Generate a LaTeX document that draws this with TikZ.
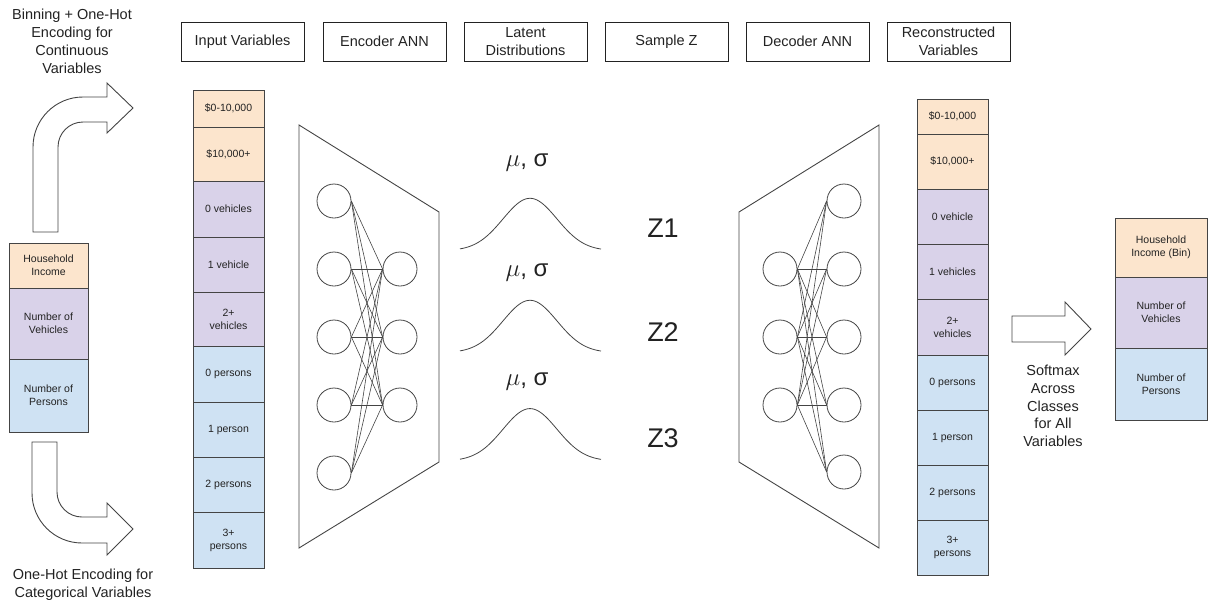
\documentclass[tikz,border=0pt]{standalone}
\usepackage{fontspec}
\setmainfont{Liberation Sans}
\definecolor{incomefill}{HTML}{FCE5CD}
\definecolor{vehfill}{HTML}{D9D2E9}
\definecolor{persfill}{HTML}{CFE2F3}
\definecolor{ink}{HTML}{222222}
\definecolor{edge}{HTML}{444444}

\begin{document}
\begin{tikzpicture}[x=1pt,y=-1pt,
  title/.style={draw=ink, line width=0.9pt, minimum width=123pt, minimum height=39pt,
    inner sep=0pt, outer sep=0pt, align=center, text=ink,
    font=\fontsize{14.5}{17.8}\selectfont},
  cell/.style={draw=edge, line width=0.9pt, inner sep=0pt, outer sep=0pt,
    anchor=north west, align=center, text=ink, font=\fontsize{10.5}{13}\selectfont},
  incell/.style={cell, minimum width=71pt},
  varcell/.style={cell, minimum width=79pt},
  outcell/.style={cell, minimum width=92pt},
  neuron/.style={circle, draw=edge, line width=0.8pt, minimum size=34pt, inner sep=0pt},
  link/.style={draw=edge, line width=0.6pt},
  caption/.style={align=center, text=ink, font=\fontsize{14.5}{17.8}\selectfont},
  blockarrow/.style={draw=edge, line width=0.9pt, fill=white},
  bell/.style={draw=edge, line width=0.8pt},
  param/.style={text=ink, font=\fontsize{24}{26}\selectfont},
  zlabel/.style={text=ink, font=\fontsize{27}{29}\selectfont}
]
\useasboundingbox (0,0) rectangle (1208,603);

% column headings
\node[title] (hin)  at (242.5,41.5) {Input Variables};
\node[title] (henc) at (384.5,41.5) {Encoder ANN};
\node[title] (hlat) at (525.5,41.5) {Latent\\Distributions};
\node[title] (hsmp) at (666.5,41.5) {Sample Z};
\node[title] (hdec) at (807.5,41.5) {Decoder ANN};
\node[title] (hrec) at (948.5,41.5) {Reconstructed\\Variables};

% raw household variables
\node[varcell, fill=incomefill, minimum height=45pt] (v1) at (9,243) {Household\\Income};
\node[varcell, fill=vehfill,    minimum height=71pt] (v2) at (9,288) {Number of\\Vehicles};
\node[varcell, fill=persfill,   minimum height=73pt] (v3) at (9,359) {Number of\\Persons};

% bent arrow up: binning + one-hot
\draw[blockarrow] (33,232) -- (33,147)
  .. controls (33,119.4) and (55.4,97) .. (83,97)
  -- (107,97) -- (107,83) -- (133,108) -- (107,133) -- (107,122) -- (83,122)
  .. controls (69.2,122) and (58,133.2) .. (58,147)
  -- (58,232) -- cycle;
\node[caption] (lcont) at (72,41.5) {Binning + One-Hot\\Encoding for\\Continuous\\Variables};

% bent arrow down: one-hot for categorical
\draw[blockarrow] (32,442) -- (32,493)
  .. controls (32,520.6) and (54.4,543) .. (82,543)
  -- (107,543) -- (107,555) -- (133,529) -- (107,503) -- (107,517) -- (82,517)
  .. controls (68.2,517) and (57,505.8) .. (57,492)
  -- (57,442) -- cycle;
\node[caption] (lcat) at (83,585) {One-Hot Encoding for\\Categorical Variables};

% one-hot encoded input vector
\node[incell, fill=incomefill, minimum height=37pt] (in1) at (193,90)  {\$0-10,000};
\node[incell, fill=incomefill, minimum height=54pt] (in2) at (193,127) {\$10,000+};
\node[incell, fill=vehfill,    minimum height=56pt] (in3) at (193,181) {0 vehicles};
\node[incell, fill=vehfill,    minimum height=55pt] (in4) at (193,237) {1 vehicle};
\node[incell, fill=vehfill,    minimum height=54pt] (in5) at (193,292) {2+\\vehicles};
\node[incell, fill=persfill,   minimum height=56pt] (in6) at (193,346) {0 persons};
\node[incell, fill=persfill,   minimum height=55pt] (in7) at (193,402) {1 person};
\node[incell, fill=persfill,   minimum height=55pt] (in8) at (193,457) {2 persons};
\node[incell, fill=persfill,   minimum height=56pt] (in9) at (193,512) {3+\\persons};

% encoder network
\draw[draw=edge, line width=0.9pt] (299,125) -- (439,212) -- (439,462) -- (299,548) -- cycle;
\foreach \i/\y in {1/201,2/269,3/337,4/405,5/473}
  \node[neuron] (e\i) at (334,\y) {};
\foreach \j/\y in {1/269,2/337,3/405}
  \node[neuron] (h\j) at (400,\y) {};
\foreach \i in {1,...,5}
  \foreach \j in {1,2,3}
    \draw[link] (e\i.east) -- (h\j.west);

% latent distributions
\foreach \b/\base in {1/250.7,2/352.7,3/461}
  \draw[bell] plot[domain=460:601, samples=80, smooth]
    (\x, {\base - 52.4*exp(-((\x-530)/27)^2/2)});
\node[param] (ms1) at (527,163) {$\mu$, σ};
\node[param] (ms2) at (527,273) {$\mu$, σ};
\node[param] (ms3) at (527,382) {$\mu$, σ};

% sampled latent variables
\node[zlabel] (z1) at (663,228) {Z1};
\node[zlabel] (z2) at (663,332) {Z2};
\node[zlabel] (z3) at (663,438) {Z3};

% decoder network
\draw[draw=edge, line width=0.9pt] (879,125) -- (739,212) -- (739,462) -- (879,548) -- cycle;
\foreach \j/\y in {1/269,2/337,3/405}
  \node[neuron] (d\j) at (780,\y) {};
\foreach \i/\y in {1/201,2/269,3/337,4/405,5/472}
  \node[neuron] (o\i) at (844,\y) {};
\foreach \i in {1,...,5}
  \foreach \j in {1,2,3}
    \draw[link] (d\j.east) -- (o\i.west);

% reconstructed vector
\node[incell, fill=incomefill, minimum height=35pt] (rc1) at (917,99)  {\$0-10,000};
\node[incell, fill=incomefill, minimum height=55pt] (rc2) at (917,134) {\$10,000+};
\node[incell, fill=vehfill,    minimum height=55pt] (rc3) at (917,189) {0 vehicle};
\node[incell, fill=vehfill,    minimum height=55pt] (rc4) at (917,244) {1 vehicles};
\node[incell, fill=vehfill,    minimum height=56pt] (rc5) at (917,299) {2+\\vehicles};
\node[incell, fill=persfill,   minimum height=55pt] (rc6) at (917,355) {0 persons};
\node[incell, fill=persfill,   minimum height=55pt] (rc7) at (917,410) {1 person};
\node[incell, fill=persfill,   minimum height=55pt] (rc8) at (917,465) {2 persons};
\node[incell, fill=persfill,   minimum height=55pt] (rc9) at (917,520) {3+\\persons};

% softmax arrow
\draw[blockarrow] (1012,316) -- (1065,316) -- (1065,302) -- (1091,329)
  -- (1065,355) -- (1065,342) -- (1012,342) -- cycle;
\node[caption] (lsoft) at (1053,406) {Softmax\\Across\\Classes\\for All\\Variables};

% decoded household variables
\node[outcell, fill=incomefill, minimum height=59pt] (w1) at (1115,218) {Household\\Income (Bin)};
\node[outcell, fill=vehfill,    minimum height=71pt] (w2) at (1115,277) {Number of\\Vehicles};
\node[outcell, fill=persfill,   minimum height=72pt] (w3) at (1115,348) {Number of\\Persons};
\end{tikzpicture}
\end{document}
